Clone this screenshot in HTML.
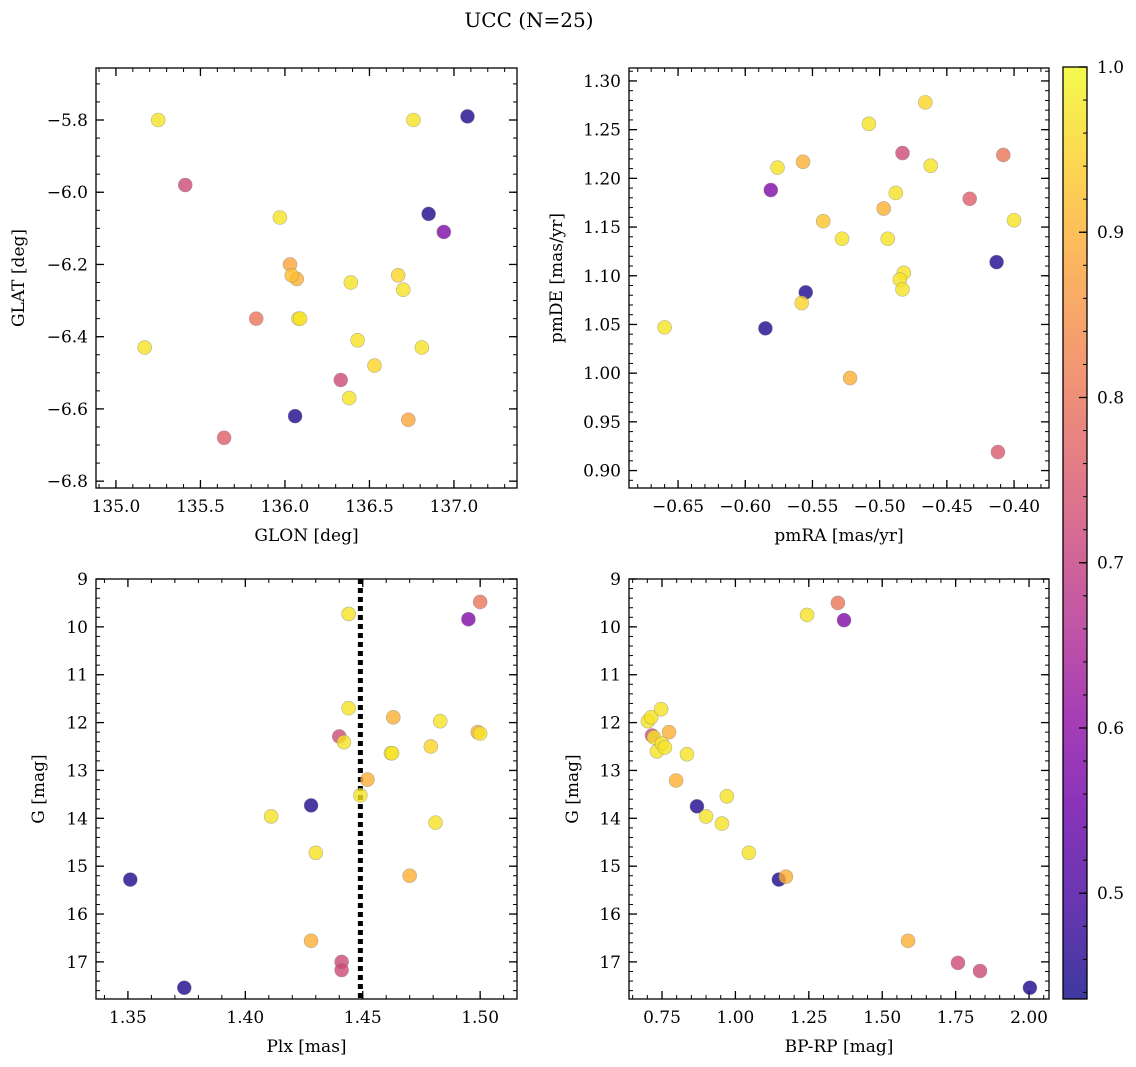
<!DOCTYPE html>
<html><head><meta charset="utf-8">
<style>
html,body{margin:0;padding:0;background:#fff;}
svg{display:block;font-family:"DejaVu Serif","Liberation Serif",serif;}
</style></head>
<body>
<svg id="fig" width="1136" height="1067" viewBox="0 0 1136 1067" xmlns="http://www.w3.org/2000/svg">
<text x="529" y="27" font-size="20" text-anchor="middle">UCC (N=25)</text>
</svg>
<script>
// Panel 1: GLON vs GLAT
const glonP1 = [135.25,135.41,136.76,137.08,136.85,136.94,135.97,136.03,136.04,136.07,136.39,136.67,136.70,136.08,136.09,135.83,135.17,136.43,136.53,136.81,136.33,136.38,136.06,136.73,135.64];
const glatP1 = [-5.80,-5.98,-5.80,-5.79,-6.06,-6.11,-6.07,-6.20,-6.23,-6.24,-6.25,-6.23,-6.27,-6.35,-6.35,-6.35,-6.43,-6.41,-6.48,-6.43,-6.52,-6.57,-6.62,-6.63,-6.68];
const probP1 = [0.97,0.72,0.97,0.45,0.45,0.58,0.97,0.88,0.92,0.90,0.97,0.95,0.97,0.97,0.97,0.80,0.97,0.97,0.95,0.97,0.72,0.97,0.45,0.88,0.76];
// Panel 2: pmRA vs pmDE
const pmraP2 = [-0.660,-0.585,-0.555,-0.558,-0.581,-0.576,-0.557,-0.542,-0.528,-0.522,-0.508,-0.497,-0.494,-0.488,-0.482,-0.485,-0.483,-0.483,-0.466,-0.462,-0.433,-0.408,-0.413,-0.400,-0.412];
const pmdeP2 = [1.047,1.046,1.083,1.072,1.188,1.211,1.217,1.156,1.138,0.995,1.256,1.169,1.138,1.185,1.103,1.096,1.086,1.226,1.278,1.213,1.179,1.224,1.114,1.157,0.919];
const probP2 = [0.97,0.45,0.45,0.95,0.58,0.97,0.90,0.93,0.97,0.90,0.97,0.90,0.97,0.97,0.97,0.97,0.97,0.72,0.95,0.97,0.76,0.80,0.45,0.97,0.75];
// Panel 3: Plx vs G
const plxP3 = [1.351,1.374,1.411,1.428,1.430,1.428,1.440,1.442,1.444,1.444,1.441,1.441,1.449,1.452,1.463,1.462,1.4625,1.470,1.479,1.481,1.483,1.495,1.499,1.500,1.500];
const gP3 = [15.28,17.54,13.96,13.73,14.72,16.56,12.29,12.41,9.73,11.70,17.00,17.17,13.52,13.19,11.89,12.64,12.64,15.20,12.50,14.09,11.97,9.84,12.20,12.23,9.48];
const probP3 = [0.45,0.45,0.97,0.45,0.97,0.90,0.72,0.97,0.97,0.97,0.72,0.72,0.97,0.90,0.90,0.97,0.97,0.90,0.95,0.97,0.97,0.58,0.90,0.97,0.80];
const plxLine = 1.449;
// Panel 4: BP-RP vs G
const bprpP4 = [0.702,0.713,0.716,0.723,0.733,0.747,0.750,0.774,0.835,0.798,0.869,0.971,0.900,0.954,1.046,1.148,1.172,1.244,1.349,1.370,1.588,1.758,1.833,2.003,0.760];
const gP4 = [11.97,11.89,12.27,12.31,12.60,11.72,12.44,12.20,12.66,13.21,13.75,13.54,13.96,14.11,14.72,15.28,15.22,9.75,9.50,9.86,16.56,17.02,17.19,17.54,12.52];
const probP4 = [0.97,0.97,0.72,0.97,0.97,0.97,0.97,0.90,0.97,0.90,0.45,0.97,0.97,0.97,0.97,0.45,0.90,0.97,0.80,0.58,0.90,0.72,0.72,0.45,0.97];
// Tick labels
const ticksP1x = [135.0,135.5,136.0,136.5,137.0];
const ticksP1y = [-5.8,-6.0,-6.2,-6.4,-6.6,-6.8];
const ticksP2x = [-0.65,-0.60,-0.55,-0.50,-0.45,-0.40];
const ticksP2y = [1.30,1.25,1.20,1.15,1.10,1.05,1.00,0.95,0.90];
const ticksP3x = [1.35,1.40,1.45,1.50];
const ticksGy = [9,10,11,12,13,14,15,16,17];
const ticksP4x = [0.75,1.00,1.25,1.50,1.75,2.00];
const ticksCb = [0.5,0.6,0.7,0.8,0.9,1.0];
const cMin = 0.436, cMax = 1.0;

const NS = "http://www.w3.org/2000/svg";
const svg = document.getElementById('fig');
function mk(tag, attrs, parent){const e=document.createElementNS(NS,tag);for(const k in attrs)e.setAttribute(k,attrs[k]);(parent||svg).appendChild(e);return e;}
const plasma=["#0d0887","#41049d","#6a00a8","#8f0da4","#b12a90","#cc4778","#e16462","#f2844b","#fca636","#fcce25","#f0f921"];
function hex(h){return [1,3,5].map(i=>parseInt(h.substr(i,2),16));}
function cmap(t){t=Math.max(0,Math.min(1,t));const s=t*10,i=Math.min(9,Math.floor(s)),f=s-i;const a=hex(plasma[i]),b=hex(plasma[i+1]);return `rgb(${a.map((v,k)=>Math.round(v+(b[k]-v)*f)).join(',')})`;}
function fmt(v,d){return (v<0?'\u2212':'')+Math.abs(v).toFixed(d);}

function panel(o){
  const g=mk('g',{});
  
  
  const X=v=>o.x0+(v-o.xmin)/(o.xmax-o.xmin)*(o.x1-o.x0);
  const Y=o.invert?v=>o.y0+(v-o.ymin)/(o.ymax-o.ymin)*(o.y1-o.y0):v=>o.y1-(v-o.ymin)/(o.ymax-o.ymin)*(o.y1-o.y0);
  const minors=(lo,hi,step)=>{const r=[];for(let v=Math.ceil(lo/step-1e-6)*step;v<=hi+1e-9;v+=step)r.push(v);return r;};
  const tg=mk('g',{stroke:'#000','stroke-width':1},g);
  minors(o.xmin,o.xmax,o.xminor).forEach(v=>{const x=X(v);mk('line',{x1:x,x2:x,y1:o.y1,y2:o.y1-4},tg);mk('line',{x1:x,x2:x,y1:o.y0,y2:o.y0+4},tg);});
  minors(Math.min(o.ymin,o.ymax),Math.max(o.ymin,o.ymax),o.yminor).forEach(v=>{const y=Y(v);mk('line',{x1:o.x0,x2:o.x0+4,y1:y,y2:y},tg);mk('line',{x1:o.x1,x2:o.x1-4,y1:y,y2:y},tg);});
  o.xt.forEach(v=>{const x=X(v);mk('line',{x1:x,x2:x,y1:o.y1,y2:o.y1-8,'stroke-width':1.3},tg);mk('line',{x1:x,x2:x,y1:o.y0,y2:o.y0+8,'stroke-width':1.3},tg);
    const t=mk('text',{x:x,y:o.y1+24,'font-size':17,'text-anchor':'middle'},g);t.textContent=fmt(v,o.xd);
    });
  o.yt.forEach(v=>{const y=Y(v);mk('line',{x1:o.x0,x2:o.x0+8,y1:y,y2:y,'stroke-width':1.3},tg);mk('line',{x1:o.x1,x2:o.x1-8,y1:y,y2:y,'stroke-width':1.3},tg);
    const t=mk('text',{x:o.x0-8,y:y+6,'font-size':17,'text-anchor':'end'},g);t.textContent=fmt(v,o.yd);
    });
  if(o.vline!==undefined){const l=mk('line',{x1:X(o.vline),x2:X(o.vline),y1:o.y0,y2:o.y1,stroke:'#000','stroke-width':5,'stroke-dasharray':'5,4'},g);
    }
  const pg=mk('g',{},g);
  const idx=o.xs.map((_,i)=>i).sort((a,b)=>o.cs[a]-o.cs[b]);
  idx.forEach(i=>{const c=mk('circle',{cx:X(o.xs[i]),cy:Y(o.ys[i]),r:7,fill:cmap((o.cs[i]-cMin)/(cMax-cMin)),'fill-opacity':0.8,stroke:'#888','stroke-opacity':0.6,'stroke-width':0.6},pg);
    });
  const fr=mk('rect',{x:o.x0,y:o.y0,width:o.x1-o.x0,height:o.y1-o.y0,fill:'none',stroke:'#000','stroke-width':1.3},g);
  
  const xl=mk('text',{x:(o.x0+o.x1)/2,y:o.y1+53,'font-size':17,'text-anchor':'middle'},g);xl.textContent=o.xlabel;
  
  const cy=(o.y0+o.y1)/2;
  const yl=mk('text',{x:o.ylx,y:cy,'font-size':17,'text-anchor':'middle',transform:`rotate(-90 ${o.ylx} ${cy})`},g);yl.textContent=o.ylabel;
  
}
panel({name:'glon-glat-panel',x0:96,x1:517,y0:68,y1:488,xmin:134.882,xmax:137.373,ymin:-6.819,ymax:-5.656,xminor:0.1,yminor:0.05,xt:ticksP1x,yt:ticksP1y,xd:1,yd:1,xs:glonP1,ys:glatP1,cs:probP1,xlabel:'GLON [deg]',ylabel:'GLAT [deg]',ylx:24});
panel({name:'pm-panel',x0:629,x1:1049,y0:68,y1:488,xmin:-0.6865,xmax:-0.374,ymin:0.8821,ymax:1.3133,xminor:0.01,yminor:0.01,xt:ticksP2x,yt:ticksP2y,xd:2,yd:2,xs:pmraP2,ys:pmdeP2,cs:probP2,xlabel:'pmRA [mas/yr]',ylabel:'pmDE [mas/yr]',ylx:562});
panel({name:'plx-g-panel',x0:96,x1:517,y0:579,y1:999,xmin:1.3364,xmax:1.5157,ymin:9,ymax:17.775,invert:true,xminor:0.01,yminor:0.2,xt:ticksP3x,yt:ticksGy,xd:2,yd:0,xs:plxP3,ys:gP3,cs:probP3,vline:plxLine,xlabel:'Plx [mas]',ylabel:'G [mag]',ylx:44});
panel({name:'cmd-panel',x0:629,x1:1049,y0:579,y1:999,xmin:0.6376,xmax:2.068,ymin:9,ymax:17.775,invert:true,xminor:0.05,yminor:0.2,xt:ticksP4x,yt:ticksGy,xd:2,yd:0,xs:bprpP4,ys:gP4,cs:probP4,xlabel:'BP-RP [mag]',ylabel:'G [mag]',ylx:578});

// Colorbar
(function(){
  const x0=1063,x1=1087,y0=67,y1=999;
  const Y=v=>y1-(v-cMin)/(cMax-cMin)*(y1-y0);
  const g=mk('g',{});
  
  const defs=mk('defs',{},g);const lg=mk('linearGradient',{id:'cbg',x1:0,y1:1,x2:0,y2:0},defs);
  plasma.forEach((c,i)=>mk('stop',{offset:i/10,'stop-color':c},lg));
  mk('rect',{x:x0,y:y0,width:x1-x0,height:y1-y0,fill:'url(#cbg)','fill-opacity':0.8},g);
  for(let v=0.44;v<=1.0001;v+=0.02){const y=Y(v);mk('line',{x1:x1,x2:x1-4,y1:y,y2:y,stroke:'#000','stroke-width':1},g);}
  ticksCb.forEach(v=>{const y=Y(v);mk('line',{x1:x1,x2:x1-8,y1:y,y2:y,stroke:'#000','stroke-width':1.3},g);
    const t=mk('text',{x:x1+10,y:y+6,'font-size':17},g);t.textContent=v.toFixed(1);
    });
  mk('rect',{x:x0,y:y0,width:x1-x0,height:y1-y0,fill:'none',stroke:'#000','stroke-width':1.3},g);
})();
</script>
</body></html>
